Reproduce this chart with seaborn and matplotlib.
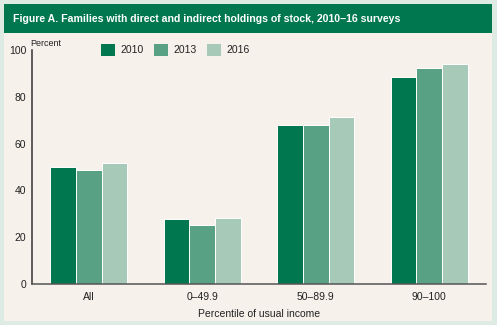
import matplotlib
matplotlib.use("Agg")
import matplotlib.pyplot as plt
import seaborn as sns
import pandas as pd
from matplotlib.patches import Rectangle, Patch
from matplotlib import font_manager

categories = ["All", "0–49.9", "50–89.9", "90–100"]
years = ["2010", "2013", "2016"]
values_2010 = [49.9, 27.8, 67.8, 88.4]
values_2013 = [48.8, 25.3, 67.8, 92.3]
values_2016 = [51.9, 28.2, 71.3, 94.0]
yticks = [0, 20, 40, 60, 80, 100]

colors = ["#00774f", "#58a184", "#a7c9b8"]
bg_outer = "#deebe4"
bg_panel = "#f6f1ea"
title_green = "#00774f"

rows = []
for y, vals in zip(years, [values_2010, values_2013, values_2016]):
    for c, v in zip(categories, vals):
        rows.append({"cat": c, "year": y, "val": v})
df = pd.DataFrame(rows)

sns.set_theme(style="white")
installed = {f.name for f in font_manager.fontManager.ttflist}
fam = [f for f in ["Liberation Sans Narrow", "Liberation Sans", "DejaVu Sans"] if f in installed]
plt.rcParams["font.family"] = fam

W, H = 497, 325
fig = plt.figure(figsize=(W / 100, H / 100), dpi=100)
fig.patch.set_facecolor(bg_outer)
fig.patches.append(Rectangle((4 / W, (H - 321) / H), 488 / W, 317 / H,
                             transform=fig.transFigure, facecolor=bg_panel,
                             edgecolor="none", zorder=-2))
fig.patches.append(Rectangle((4 / W, (H - 33) / H), 488 / W, 29 / H,
                             transform=fig.transFigure, facecolor=title_green,
                             edgecolor="none", zorder=-1))
fig.text(13 / W, (H - 18.5) / H,
         "Figure A. Families with direct and indirect holdings of stock, 2010–16 surveys",
         color="white", fontsize=7.6, fontweight="bold", va="center", ha="left")

ax = fig.add_axes([32 / W, (H - 284) / H, (486 - 32) / W, (284 - 50) / H])
ax.set_zorder(2)
ax.set_facecolor("none")
sns.barplot(data=df, x="cat", y="val", hue="year", order=categories,
            hue_order=years, palette=colors, width=0.68, saturation=1,
            edgecolor="white", linewidth=0.7, ax=ax, legend=False)

ax.set_xlim(-0.5, 3.5)
ax.set_ylim(0, 100)
ax.set_yticks(yticks)
ax.set_yticklabels([str(t) for t in yticks])
ax.set_xticks(range(len(categories)))
ax.set_xticklabels(categories)
ax.set_xticks([-0.5, 0.5, 1.5, 2.5, 3.5], minor=True)
ax.tick_params(axis="x", which="major", length=0, pad=6, labelsize=7.5, labelcolor="#222222")
ax.tick_params(axis="x", which="minor", direction="in", length=5, width=1, color="#444444")
ax.tick_params(axis="y", which="major", direction="in", length=6, width=1, color="#333333",
               pad=4, labelsize=7.5, labelcolor="#222222")
for s in ["top", "right"]:
    ax.spines[s].set_visible(False)
ax.spines["left"].set_color("#333333")
ax.spines["bottom"].set_color("#555555")
ax.spines["left"].set_linewidth(1.1)
ax.spines["bottom"].set_linewidth(1.1)
ax.set_xlabel("Percentile of usual income", fontsize=7.5, color="#222222", labelpad=5)
ax.set_ylabel("")
fig.text(30 / W, (H - 43) / H, "Percent", fontsize=6.5,
         color="#222222", ha="left", va="center")

handles = [Patch(facecolor=c, edgecolor="none", label=y) for c, y in zip(colors, years)]
fig.legend(handles=handles, loc="center left", bbox_to_anchor=(101 / W, (H - 50) / H),
           ncol=3, frameon=False, fontsize=7.5, handlelength=1.35, handleheight=1.35,
           handletextpad=0.5, columnspacing=1.0, borderpad=0, borderaxespad=0,
           labelcolor="#222222")

fig.savefig("out.png", dpi=100, facecolor=fig.get_facecolor())
